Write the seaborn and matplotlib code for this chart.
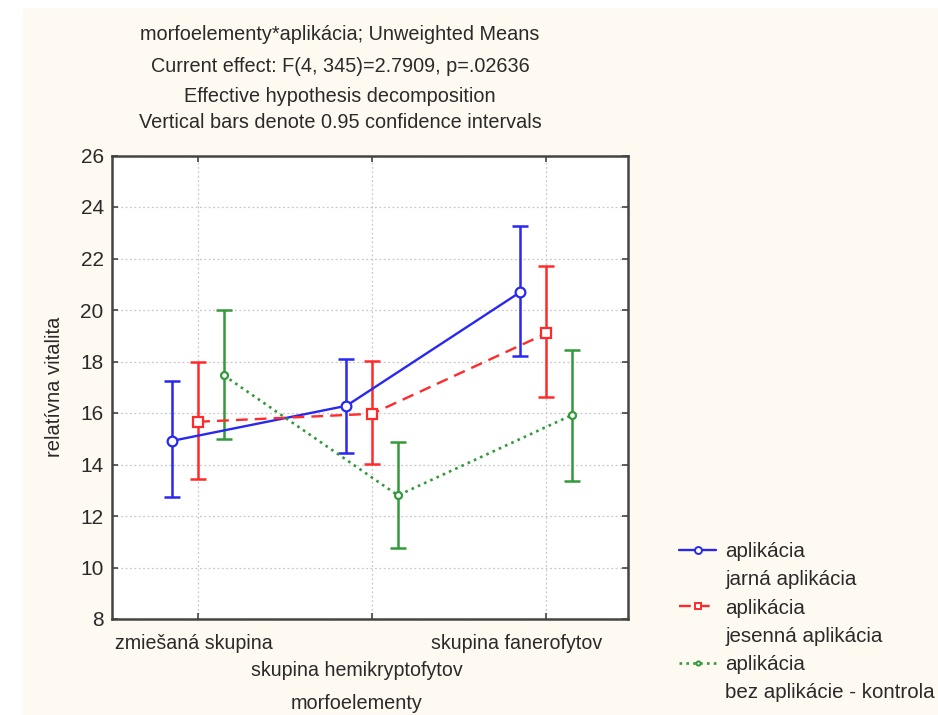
import numpy as np
import pandas as pd
import matplotlib
matplotlib.use("Agg")
import matplotlib.pyplot as plt
import matplotlib.transforms as mtransforms
from matplotlib.lines import Line2D
from matplotlib.patches import Rectangle
import seaborn as sns

# ---- data ----
categories = ["zmiešaná skupina", "skupina hemikryptofytov", "skupina fanerofytov"]
series_names = ["jarná aplikácia", "jesenná aplikácia", "bez aplikácie - kontrola"]
mean_jarna = [14.92, 16.28, 20.70]
low_jarna = [12.72, 14.45, 18.23]
high_jarna = [17.23, 18.10, 23.25]
mean_jesenna = [15.66, 15.97, 19.09]
low_jesenna = [13.43, 14.02, 16.61]
high_jesenna = [17.97, 18.03, 21.70]
mean_kontrola = [17.46, 12.80, 15.92]
low_kontrola = [14.99, 10.75, 13.37]
high_kontrola = [20.00, 14.88, 18.46]
yticks = [8, 10, 12, 14, 16, 18, 20, 22, 24, 26]

title_lines = ["morfoelementy*aplikácia; Unweighted Means",
               "Current effect: F(4, 345)=2.7909, p=.02636",
               "Effective hypothesis decomposition",
               "Vertical bars denote 0.95 confidence intervals"]

sns.set_theme(style="white")
plt.rcParams['font.family'] = ['Liberation Sans', 'DejaVu Sans']
TXT = "#2a2a2a"

rows = []
for si, (name, m, lo, hi) in enumerate(zip(series_names,
                                           [mean_jarna, mean_jesenna, mean_kontrola],
                                           [low_jarna, low_jesenna, low_kontrola],
                                           [high_jarna, high_jesenna, high_kontrola])):
    for ci, cat in enumerate(categories):
        rows.append(dict(series=name, sidx=si, cat=cat, cidx=ci, mean=m[ci], lo=lo[ci], hi=hi[ci]))
df = pd.DataFrame(rows)
df["xpos"] = df["cidx"] + (df["sidx"] - 1) * 0.148

fig = plt.figure(figsize=(9.38, 7.15), dpi=100)
fig.patch.set_facecolor("white")
fig.patches.append(Rectangle((23 / 938, 0), 1, 1 - 8 / 715, transform=fig.transFigure,
                             facecolor="#fef9f1", edgecolor="none", zorder=-10))
ax = fig.add_axes([112 / 938, 1 - 619 / 715, (628 - 112) / 938, (619 - 155.5) / 715])
ax.set_facecolor("white")

styles = {
    "jarná aplikácia": dict(color="#2828f0", ls="-", marker="o", ms=7, lw=1.7),
    "jesenná aplikácia": dict(color="#ff2a2a", ls=(0, (5, 3)), marker="s", ms=7, lw=1.7),
    "bez aplikácie - kontrola": dict(color="#33993a", ls=(0, (1, 1.6)), marker="o", ms=5, lw=1.9),
}

handles = []
for name in series_names:
    st = styles[name]
    d = df[df["series"] == name]
    ax.errorbar(d["xpos"], d["mean"], yerr=[d["mean"] - d["lo"], d["hi"] - d["mean"]],
                fmt="none", ecolor=st["color"], elinewidth=1.8, capsize=6, capthick=1.8, zorder=2)
    sns.lineplot(data=d, x="xpos", y="mean", ax=ax, color=st["color"], linestyle=st["ls"],
                 linewidth=st["lw"], marker=st["marker"], markersize=st["ms"],
                 markerfacecolor="white", markeredgecolor=st["color"], markeredgewidth=1.6,
                 sort=False, estimator=None, zorder=3, legend=False)
    handles.append(Line2D([], [], color=st["color"], linestyle=st["ls"], linewidth=st["lw"],
                          marker=st["marker"], markersize=st["ms"] - 2, markerfacecolor="white",
                          markeredgecolor=st["color"], markeredgewidth=1.4))
    handles.append(Line2D([], [], color="none"))

ax.set_xlim(-0.495, 2.47)
ax.set_ylim(8, 26)
ax.set_yticks(yticks)
ax.set_yticklabels([str(t) for t in yticks], fontsize=15, color=TXT)
ax.set_xticks(range(len(categories)))
ax.set_xticklabels(categories, fontsize=14.1, color=TXT)

ax.tick_params(axis="both", which="both", direction="in", length=4, width=1.2, color="#444444",
               top=True, right=True, left=True, bottom=True)
ax.tick_params(axis="y", pad=6)
ax.tick_params(axis="x", pad=11)

# staggered label positions (horizontal, vertical offsets in pixels) - after tick_params
offs = [(-4, 0), (-15, -27), (-30, 0)]
for lab, (ox, oy) in zip(ax.get_xticklabels(), offs):
    lab.set_transform(lab.get_transform() +
                      mtransforms.ScaledTranslation(ox / 100, oy / 100, fig.dpi_scale_trans))

ax.grid(True, color="#c8c8c8", linestyle=(0, (1.5, 2)), linewidth=0.9)
for sp in ax.spines.values():
    sp.set_color("#444444")
    sp.set_linewidth(1.8)
ax.set_xlabel("morfoelementy", fontsize=14.3, color=TXT)
ax.xaxis.set_label_coords((357 - 112) / 516, (619 - 694) / 463.5)
ax.set_ylabel("relatívna vitalita", fontsize=14.5, color=TXT, labelpad=12)

title_y = [35, 67, 96, 122]
for line, ty in zip(title_lines, title_y):
    fig.text(340 / 938, 1 - ty / 715, line, ha="center", va="center",
             fontsize=14.3, color=TXT)

labels = ["aplikácia", "jarná aplikácia", "aplikácia", "jesenná aplikácia",
          "aplikácia", "bez aplikácie - kontrola"]
leg = fig.legend(handles, labels, loc="upper left", bbox_to_anchor=(679 / 938, 1 - 542 / 715),
                 frameon=False, fontsize=14.8, handlelength=1.8, handletextpad=0.45,
                 labelspacing=0.45, borderpad=0, borderaxespad=0)
for t in leg.get_texts():
    t.set_color(TXT)

fig.savefig("out.png", dpi=100, facecolor=fig.get_facecolor())
